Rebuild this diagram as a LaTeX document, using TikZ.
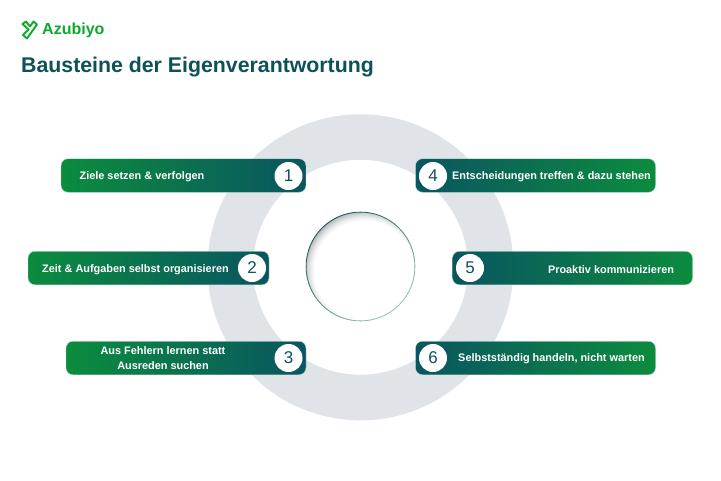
\documentclass[tikz,border=0pt]{standalone}
\usepackage{fontspec}
\setmainfont{Liberation Sans}
\definecolor{barGreen}{HTML}{0B8C3E}
\definecolor{barTeal}{HTML}{0A5560}
\definecolor{titleTeal}{HTML}{0C5257}
\definecolor{logoGreen}{HTML}{0BAA2C}
\definecolor{ringGray}{HTML}{E0E3E8}
\tikzset{
  barbox/.style={draw=barGreen!30, line width=0.4pt, rounded corners=7pt, minimum height=33.5pt, inner sep=0pt},
  barlr/.style={barbox, left color=barGreen, right color=barTeal},
  barrl/.style={barbox, left color=barTeal, right color=barGreen},
  numdot/.style={circle, fill=white, minimum size=28pt, inner sep=0pt, text=titleTeal, font=\fontsize{17}{17}\selectfont},
  bartext/.style={text=white, font=\fontsize{10.9}{15.5}\selectfont\bfseries, align=center, inner sep=0pt}
}
\begin{document}
\begin{tikzpicture}[x=1pt, y=-1pt]
\useasboundingbox (0,0) rectangle (721,480);
\fill[white] (0,0) rectangle (721,480);

% ring
\fill[ringGray, even odd rule] (360.5,267.3) circle[radius=153] circle[radius=107.5];

% centre disc
\begin{scope}
\clip (360.5,266.5) circle[radius=54.5];
\foreach \r/\g in {62/38,61/33,60/28,59/24,58/20,57/16,56/13,55/10,54/7,53/5,52/3,51/1}
  \fill[black!\g!white] (364.5,271) circle[radius=\r];
\fill[white] (364.5,271) circle[radius=50];
\end{scope}
\shade[even odd rule, top color=barTeal, bottom color=barGreen!45, shading angle=40] (360.5,266.5) circle[radius=54.8] circle[radius=54];

% bars
\node[barlr, minimum width=245pt] (bar1) at (183.5,175.5) {};
\node[barlr, minimum width=241pt] (bar2) at (148.5,268) {};
\node[barlr, minimum width=240pt] (bar3) at (186,358) {};
\node[barrl, minimum width=240pt] (bar4) at (535.5,175.5) {};
\node[barrl, minimum width=240pt] (bar5) at (572.5,268) {};
\node[barrl, minimum width=240pt] (bar6) at (535.5,358) {};

\node[numdot] (num1) at (288.5,176) {1};
\node[numdot] (num2) at (252,268) {2};
\node[numdot] (num3) at (288.5,358) {3};
\node[numdot] (num4) at (433,176) {4};
\node[numdot] (num5) at (470,268) {5};
\node[numdot] (num6) at (433,358) {6};

\node[bartext] (txt1) at (142,176.5) {Ziele setzen \& verfolgen};
\node[bartext] (txt2) at (135.5,269.5) {Zeit \& Aufgaben selbst organisieren};
\node[bartext] (txt3) at (163,358.3) {Aus Fehlern lernen statt\\Ausreden suchen};
\node[bartext] (txt4) at (551.5,177) {Entscheidungen treffen \& dazu stehen};
\node[bartext] (txt5) at (611,269.5) {Proaktiv kommunizieren};
\node[bartext] (txt6) at (551.5,359) {Selbstständig handeln, nicht warten};

% logo
\draw[logoGreen, line width=1.9pt, line join=round] (22.5,24) -- (26,21.5) -- (30,26.5) -- (33.5,21.5) -- (37,24.5) -- (27,38.5) -- (23,35) -- (28.5,29.5) -- cycle;
\node[anchor=west, inner sep=0pt, text=logoGreen, font=\fontsize{16}{16}\selectfont\bfseries] (brand) at (42,30.5) {Azubiyo};
\node[anchor=west, inner sep=0pt, text=titleTeal, font=\fontsize{21.3}{21.3}\selectfont\bfseries] (title) at (21,67.5) {Bausteine der Eigenverantwortung};
\end{tikzpicture}
\end{document}
